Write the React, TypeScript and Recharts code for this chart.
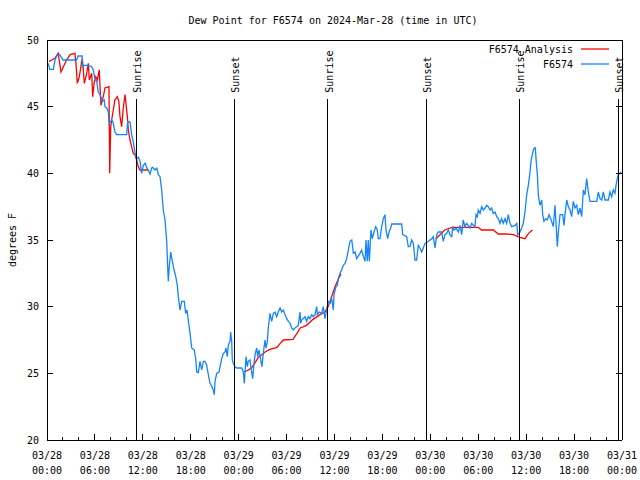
import { LineChart, Line, XAxis, YAxis, ReferenceLine } from 'recharts';

// hours since 03/28 00:00 UTC, dew point in degrees F
const analysisA: [number, number][] = [
  [0.25, 48.4], [0.6, 48.5], [1.0, 48.65], [1.4, 49.0], [1.75, 47.6], [2.05, 48.0], [2.45, 48.5],
  [2.9, 48.9], [3.5, 49.0], [3.63, 48.25], [3.8, 46.75], [4.05, 47.25], [4.4, 48.6], [4.55, 47.75],
  [4.67, 46.75], [4.97, 47.5], [5.17, 48.25], [5.3, 47.0], [5.6, 47.5], [5.72, 45.75], [5.9, 46.75],
  [6.1, 47.25], [6.3, 47.0], [6.55, 47.75], [6.64, 46.5], [6.76, 45.1], [7.05, 45.75], [7.26, 46.4],
  [7.76, 46.5], [7.85, 40.0], [7.98, 43.5], [8.1, 44.0], [8.3, 44.75], [8.5, 45.5], [8.8, 45.75],
  [9.0, 45.4], [9.14, 44.25], [9.35, 43.5], [9.55, 44.9], [9.77, 45.9], [10.06, 44.25], [10.18, 43.25],
  [10.4, 42.5], [10.6, 42.0], [10.8, 41.5], [11.0, 41.4], [11.23, 41.0], [11.43, 40.5], [11.65, 40.25],
  [12.5, 40.25], [12.77, 40.2],
];

const analysisB: [number, number][] = [
  [24.7, 25.1], [25.2, 25.25], [25.6, 25.4], [26.0, 25.75], [26.46, 26.2], [26.9, 26.4], [27.3, 26.6],
  [27.9, 26.8], [28.8, 26.95], [29.2, 27.25], [29.6, 27.5], [30.8, 27.55], [31.3, 28.0], [31.7, 28.4],
  [32.5, 28.6], [33.3, 29.05], [34.2, 29.4], [34.8, 29.6], [35.2, 30.0], [35.65, 30.75], [36.06, 31.5],
  [36.5, 32.1], [36.8, 32.45],
];

const analysisC: [number, number][] = [
  [48.7, 35.1], [49.4, 35.5], [49.8, 35.75], [50.7, 35.95], [52.55, 35.95], [54.0, 35.95], [54.4, 35.75],
  [55.9, 35.75], [56.5, 35.45], [57.55, 35.45], [58.4, 35.4], [59.2, 35.2], [59.85, 35.1], [60.3, 35.5],
  [60.8, 35.75],
];

const observed: [number, number][] = [
  [0.15, 48.25], [0.35, 47.8], [0.8, 47.8], [1.0, 48.5], [1.2, 48.8], [1.6, 48.9], [2.0, 48.5], [3.7, 48.5],
  [3.9, 48.8], [4.4, 48.8], [4.5, 47.9], [4.6, 48.1], [5.2, 48.1], [5.6, 48.0], [5.8, 47.75], [6.0, 47.1],
  [6.22, 46.9], [6.42, 46.1], [6.64, 45.9], [6.85, 45.6], [6.92, 45.4], [7.17, 45.5], [7.26, 45.0],
  [7.48, 44.9], [7.68, 44.6], [7.76, 43.75], [8.1, 44.0], [8.26, 43.85], [8.51, 43.1], [8.73, 42.9],
  [9.98, 42.9], [10.1, 43.9], [10.4, 43.85], [10.6, 42.9], [10.8, 42.4], [11.0, 41.6], [11.2, 41.1],
  [11.45, 41.2], [11.65, 40.9], [11.86, 40.0], [12.06, 40.6], [12.3, 40.75], [12.5, 40.4], [12.68, 40.25],
  [12.9, 39.95], [13.11, 40.4], [13.24, 40.45], [13.52, 40.25], [13.74, 40.4], [13.94, 39.9], [14.15, 39.75],
  [14.36, 38.75], [14.56, 37.25], [14.78, 36.5], [14.99, 34.9], [15.11, 33.0], [15.19, 31.9], [15.31, 33.0],
  [15.49, 34.1], [15.62, 33.65], [15.82, 33.0], [16.12, 32.25], [16.32, 31.6], [16.44, 30.75], [16.65, 29.75],
  [16.87, 30.4], [17.19, 30.4], [17.37, 29.5], [17.53, 29.75], [17.69, 29.0], [17.91, 28.0], [18.12, 26.9],
  [18.44, 26.75], [18.62, 26.1], [18.75, 25.1], [18.95, 25.05], [19.16, 25.9], [19.37, 25.25], [19.57, 25.9],
  [19.78, 25.9], [20.0, 25.6], [20.2, 24.9], [20.41, 24.25], [20.62, 24.05], [20.82, 23.75], [20.95, 23.4],
  [21.04, 24.4], [21.25, 25.0], [21.54, 25.1], [21.7, 25.6], [21.88, 26.1], [22.08, 26.5], [22.29, 26.6],
  [22.41, 26.9], [22.58, 26.25], [22.7, 27.1], [22.92, 27.4], [23.0, 28.1], [23.13, 27.4], [23.2, 26.0],
  [23.33, 25.75], [23.54, 25.5], [23.75, 25.4], [24.38, 25.4], [24.58, 25.1], [24.71, 24.25], [24.92, 26.25],
  [25.08, 25.5], [25.2, 25.9], [25.42, 26.0], [25.54, 25.4], [25.76, 24.6], [25.92, 25.75], [26.08, 26.5],
  [26.26, 26.9], [26.38, 26.25], [26.55, 26.75], [26.76, 26.0], [26.92, 25.5], [27.08, 26.5], [27.3, 27.5],
  [27.42, 26.9], [27.59, 27.4], [27.71, 28.4], [27.92, 29.5], [28.14, 28.9], [28.34, 29.5], [28.55, 29.6],
  [28.76, 29.25], [28.96, 29.6], [29.18, 29.9], [29.39, 29.6], [29.59, 29.75], [29.8, 29.4], [30.02, 29.1],
  [30.22, 28.9], [30.43, 28.75], [30.64, 28.4], [30.84, 28.25], [31.05, 28.4], [31.27, 28.5], [31.47, 28.6],
  [31.68, 29.6], [31.77, 28.75], [31.89, 29.0], [32.31, 29.25], [32.52, 28.9], [32.72, 29.25], [32.93, 29.1],
  [33.15, 29.4], [33.35, 29.25], [33.56, 29.4], [33.77, 30.0], [33.85, 29.4], [34.1, 29.6], [34.4, 29.5],
  [34.6, 30.0], [34.81, 29.1], [35.02, 29.75], [35.22, 30.4], [35.44, 30.25], [35.65, 30.6], [35.85, 29.75],
  [35.94, 30.9], [36.19, 31.5], [36.35, 31.6], [36.48, 32.1], [36.69, 32.5], [36.9, 32.75], [37.1, 33.1],
  [37.32, 33.25], [37.53, 33.6], [37.73, 34.25], [37.94, 34.9], [38.16, 35.0], [38.36, 34.0], [38.57, 34.1],
  [38.78, 33.6], [39.19, 34.0], [39.4, 34.25], [39.61, 33.75], [39.82, 33.4], [39.94, 35.0], [40.1, 33.4],
  [40.23, 35.0], [40.36, 33.4], [40.57, 35.75], [40.73, 35.1], [40.95, 35.6], [41.16, 36.0], [41.36, 35.75],
  [41.48, 35.1], [41.7, 35.1], [41.91, 36.0], [42.11, 36.6], [42.32, 36.9], [42.45, 35.75], [42.66, 35.1],
  [42.83, 35.6], [43.04, 35.9], [43.16, 36.2], [44.42, 36.2], [44.54, 35.4], [45.04, 35.25], [45.24, 34.5],
  [45.45, 34.5], [45.67, 35.0], [45.87, 34.75], [46.08, 33.5], [46.29, 33.5], [46.49, 34.6], [46.71, 34.4],
  [46.92, 34.1], [47.12, 34.4], [47.33, 34.75], [47.75, 34.9], [48.17, 35.1], [48.37, 35.25], [48.59, 34.4],
  [48.8, 35.4], [49.0, 35.6], [49.42, 35.6], [49.62, 34.9], [49.84, 35.4], [50.05, 35.5], [50.25, 35.75],
  [50.46, 35.4], [50.68, 35.25], [50.8, 36.0], [50.96, 35.75], [51.21, 35.9], [51.5, 35.6], [51.72, 36.1],
  [51.92, 35.4], [52.12, 36.5], [52.34, 36.0], [52.55, 36.25], [52.75, 36.1], [52.97, 35.9], [53.18, 36.25],
  [53.38, 36.1], [53.59, 36.0], [53.72, 36.9], [53.88, 36.75], [54.0, 37.25], [54.22, 37.0], [54.43, 37.5],
  [54.63, 37.25], [54.85, 37.4], [55.06, 37.6], [55.26, 37.5], [55.47, 37.25], [55.68, 37.4], [55.88, 37.0],
  [56.1, 37.1], [56.31, 36.75], [56.51, 36.6], [56.72, 36.25], [56.93, 36.6], [57.13, 36.25], [57.35, 36.6],
  [57.56, 36.25], [57.76, 36.9], [57.98, 36.25], [58.19, 36.0], [58.6, 36.1], [58.82, 36.25], [58.94, 35.4],
  [59.14, 35.5], [59.44, 35.9], [59.64, 36.25], [59.85, 37.1], [60.07, 38.4], [60.27, 39.1], [60.48, 40.1],
  [60.6, 40.9], [60.77, 41.4], [60.9, 41.75], [61.02, 41.9], [61.15, 41.9], [61.23, 41.1], [61.4, 39.9],
  [61.52, 38.4], [61.73, 37.6], [61.95, 38.0], [62.07, 36.9], [62.23, 36.4], [62.45, 36.6], [62.65, 36.5],
  [62.86, 36.9], [63.07, 36.6], [63.27, 36.25], [63.4, 36.0], [63.61, 37.6], [63.73, 36.4], [63.9, 34.5],
  [64.03, 35.6], [64.24, 36.9], [64.57, 36.9], [64.74, 36.1], [64.86, 36.9], [65.08, 38.0], [65.28, 37.5],
  [65.49, 37.25], [65.7, 36.75], [65.9, 37.9], [66.12, 37.4], [66.33, 37.6], [66.53, 36.9], [66.74, 37.4],
  [66.95, 36.75], [67.16, 38.75], [67.37, 38.4], [67.58, 39.6], [67.78, 38.6], [67.99, 37.9], [68.83, 37.9],
  [69.03, 38.6], [69.25, 38.1], [69.46, 38.0], [69.66, 38.6], [69.87, 38.0], [70.29, 38.0], [70.5, 38.6],
  [70.71, 38.25], [70.91, 38.75], [71.12, 38.5], [71.25, 39.1], [71.41, 39.6], [71.54, 39.9], [71.9, 40.1],
];

const sunriseHours = [11.18, 35.15, 59.12];
const sunsetHours = [23.45, 47.47, 71.5];

const xTicks = [0, 2, 4, 6, 8, 10, 12, 14, 16, 18, 20, 22, 24, 26, 28, 30, 32, 34, 36, 38, 40, 42, 44, 46, 48, 50, 52, 54, 56, 58, 60, 62, 64, 66, 68, 70, 72];
const tickDates = ['03/28', '03/28', '03/28', '03/28', '03/29', '03/29', '03/29', '03/29', '03/30', '03/30', '03/30', '03/30', '03/31'];
const tickTimes = ['00:00', '06:00', '12:00', '18:00', '00:00', '06:00', '12:00', '18:00', '00:00', '06:00', '12:00', '18:00', '00:00'];
const yTicks = [20, 25, 30, 35, 40, 45, 50];

const FONT = '"DejaVu Sans Mono", "Liberation Mono", monospace';
const RED = '#ff0000';
const BLUE = '#1484ff';

const toRows = (pts: [number, number][]) => pts.map(([h, v]) => ({ h, v }));
const analysisRows = [
  ...toRows(analysisA), { h: 18, v: null },
  ...toRows(analysisB), { h: 42, v: null },
  ...toRows(analysisC),
];
const observedRows = toRows(observed);

const sunEvents = [
  ...sunriseHours.map((h) => ({ h, label: 'Sunrise' })),
  ...sunsetHours.map((h) => ({ h, label: 'Sunset' })),
];

function BottomTick({ x, y, payload }: any) {
  const h = payload.value;
  const major = h % 6 === 0;
  const i = h / 6;
  return (
    <g>
      <line x1={x} y1={y} x2={x} y2={y - (major ? 6 : 3)} stroke="#000" shapeRendering="crispEdges" />
      {major && (
        <text x={x} y={y + 18.5} textAnchor="middle" fontFamily={FONT} fontSize={10} fill="#000">{tickDates[i]}</text>
      )}
      {major && (
        <text x={x} y={y + 33.5} textAnchor="middle" fontFamily={FONT} fontSize={10} fill="#000">{tickTimes[i]}</text>
      )}
    </g>
  );
}

function TopTick({ x, y, payload }: any) {
  const major = payload.value % 6 === 0;
  return <line x1={x} y1={y} x2={x} y2={y + (major ? 6 : 3)} stroke="#000" shapeRendering="crispEdges" />;
}

function LeftTick({ x, y, payload }: any) {
  return (
    <g>
      <line x1={x} y1={y} x2={x + 6} y2={y} stroke="#000" shapeRendering="crispEdges" />
      <text x={x - 8} y={y + 3.5} textAnchor="end" fontFamily={FONT} fontSize={10} fill="#000">{payload.value}</text>
    </g>
  );
}

function RightTick({ x, y }: any) {
  return <line x1={x} y1={y} x2={x - 6} y2={y} stroke="#000" shapeRendering="crispEdges" />;
}

function SunLabel({ viewBox, text }: any) {
  if (!viewBox) return null;
  const x = viewBox.x + 5;
  const y = viewBox.y - 6;
  return (
    <text x={x} y={y} transform={`rotate(-90, ${x}, ${y})`} textAnchor="start" fontFamily={FONT} fontSize={10} fill="#000">
      {text}
    </text>
  );
}

const legendItems = [
  { name: 'F6574 Analysis', color: RED },
  { name: 'F6574', color: BLUE },
];

export default function App() {
  const border = { stroke: '#000', shapeRendering: 'crispEdges' } as any;
  return (
    <div style={{ position: 'fixed', left: 0, top: 0, width: 640, height: 480, background: '#fff' }}>
      <LineChart width={640} height={480} margin={{ top: 0, right: 0, bottom: 0, left: 0 }}>
        <XAxis dataKey="h" type="number" domain={[0, 72]} ticks={xTicks} interval={0} allowDataOverflow
          height={40} tickSize={0} tickMargin={0} tickLine={false} axisLine={border} tick={<BottomTick />} />
        <XAxis xAxisId="top" orientation="top" type="number" domain={[0, 72]} ticks={xTicks} interval={0} allowDataOverflow
          height={40} tickSize={0} tickMargin={0} tickLine={false} axisLine={border} tick={<TopTick />} />
        <YAxis type="number" domain={[20, 50]} ticks={yTicks} interval={0} allowDataOverflow
          width={47} tickSize={0} tickMargin={0} tickLine={false} axisLine={border} tick={<LeftTick />} />
        <YAxis yAxisId="right" orientation="right" type="number" domain={[20, 50]} ticks={yTicks} interval={0} allowDataOverflow
          width={18} tickSize={0} tickMargin={0} tickLine={false} axisLine={border} tick={<RightTick />} />
        <Line data={analysisRows} dataKey="v" type="linear" stroke={RED} strokeWidth={1.3} dot={false}
          connectNulls={false} isAnimationActive={false} />
        <Line data={observedRows} dataKey="v" type="linear" stroke={BLUE} strokeWidth={1.3} dot={false}
          isAnimationActive={false} />
        {sunEvents.map((e) => (
          <ReferenceLine key={e.label + e.h} segment={[{ x: e.h, y: 20 }, { x: e.h, y: 45.6 }]}
            stroke="#000" strokeWidth={1} shapeRendering="crispEdges" label={(p: any) => <SunLabel {...p} text={e.label} />} />
        ))}
      </LineChart>
      <svg width={640} height={480} style={{ position: 'absolute', left: 0, top: 0, pointerEvents: 'none' }}>
        <text x={333} y={23.5} textAnchor="middle" fontFamily={FONT} fontSize={10} fill="#000">
          Dew Point for F6574 on 2024-Mar-28 (time in UTC)
        </text>
        <text x={16} y={240} transform="rotate(-90, 16, 240)" textAnchor="middle" fontFamily={FONT} fontSize={10} fill="#000">
          degrees F
        </text>
        {legendItems.map((it, i) => (
          <g key={it.name}>
            <text x={573} y={52.5 + i * 15} textAnchor="end" fontFamily={FONT} fontSize={10} fill="#000">{it.name}</text>
            <line x1={581} y1={49 + i * 15} x2={609} y2={49 + i * 15} stroke={it.color} strokeWidth={1.3} />
          </g>
        ))}
      </svg>
    </div>
  );
}
